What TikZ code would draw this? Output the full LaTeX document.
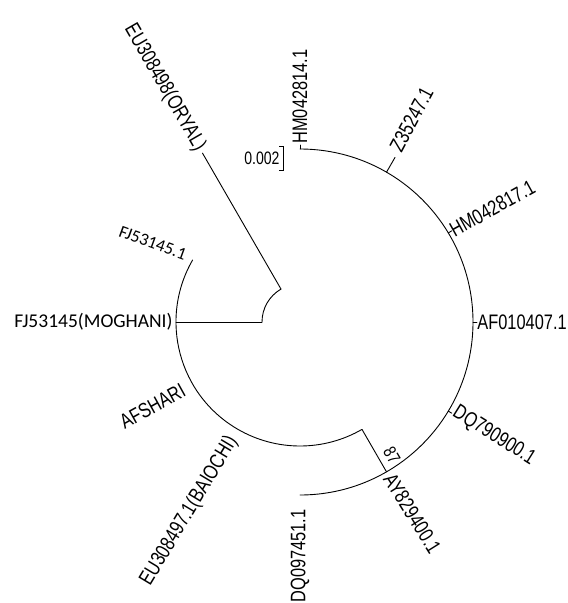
\documentclass[tikz,border=0pt]{standalone}
\usepackage{fontspec}
\setmainfont{Liberation Sans}
\newfontfamily\califont{Carlito}
\newcommand{\narrowtxt}[1]{\scalebox{0.78}[1]{#1}}
\begin{document}
\begin{tikzpicture}[x=1pt,y=1pt,line width=0.9pt,line cap=round,
  lbl/.style={font=\fontsize{21}{21}\selectfont,inner sep=1pt},
  lblR/.style={lbl,anchor=west},
  lblL/.style={lbl,anchor=east},
  calbig/.style={font=\califont\fontsize{19.5}{19.5}\selectfont,inner sep=1pt,anchor=east},
  calsmall/.style={font=\califont\fontsize{17.5}{17.5}\selectfont,inner sep=1pt,anchor=east},
  boot/.style={font=\fontsize{18}{18}\selectfont,inner sep=0pt},
  scalelbl/.style={font=\fontsize{18}{18}\selectfont,inner sep=1pt,anchor=east}]
\useasboundingbox (0,0) rectangle (568,-603);
\coordinate (C) at (300,-322);
\begin{scope}[shift={(C)}]
  % internal nodes
  \coordinate (root) at (0,0);
  \coordinate (ra) at (180:38pt);
  \coordinate (rb) at (120:38pt);
  \coordinate (cl) at (180:124pt);
  \coordinate (clA) at (150:124pt);
  \coordinate (clB) at (300:124pt);
  \coordinate (cr) at (300:173pt);
  \coordinate (crA) at (-90:173pt);
  % leaves
  \coordinate (oryal) at (120:195pt);
  \coordinate (z35) at (60:173pt);
  \coordinate (z35t) at (60:190pt);
  \coordinate (hm14) at (90:173pt);
  \coordinate (hm14t) at (90:177pt);
  \coordinate (hm17) at (31:173pt);
  \coordinate (hm17t) at (31:177pt);
  \coordinate (af) at (0:173pt);
  \coordinate (aft) at (0:177pt);
  \coordinate (dq79) at (-31:173pt);
  \coordinate (dq79t) at (-31:177pt);

  % branches
  \draw (ra) arc[start angle=180,end angle=120,radius=38pt];
  \draw (rb) -- (oryal);
  \draw (ra) -- (cl);
  \draw (clA) arc[start angle=150,end angle=300,radius=124pt];
  \draw (clB) -- (cr);
  \draw (crA) arc[start angle=-90,end angle=90,radius=173pt];
  \draw (z35) -- (z35t);
  \draw (hm14) -- (hm14t);
  \draw (hm17) -- (hm17t);
  \draw (af) -- (aft);
  \draw (dq79) -- (dq79t);

  % labels, right side
  \node[lblR,rotate=90] (Lhm14) at (90:177pt) {\narrowtxt{HM042814.1}};
  \node[lblR,rotate=62] (Lz35) at (61:195pt) {\narrowtxt{Z35247.1}};
  \node[lblR,rotate=29] (Lhm17) at (31:175pt) {\narrowtxt{HM042817.1}};
  \node[lblR] (Laf) at (0:176pt) {\narrowtxt{AF010407.1}};
  \node[lblR,rotate=-32] (Ldq79) at (-30:177pt) {\narrowtxt{DQ790900.1}};
  \node[lblR,rotate=-58] (Lay) at (-60:176pt) {\narrowtxt{AY829400.1}};
  % labels, left side
  \node[lblL,rotate=90] (Ldq09) at (270:186pt) {\narrowtxt{DQ097451.1}};
  \node[lblL,rotate=59] (Lbai) at (240:133pt) {\narrowtxt{EU308497.1(BAIOCHI)}};
  \node[lblL,rotate=29] (Lafs) at (210:133pt) {\narrowtxt{AFSHARI}};
  \node[calbig] (Lmog) at (180:126pt) {FJ53145(MOGHANI)};
  \node[calsmall,rotate=-20] (Lfj) at (149.5:131pt) {FJ53145.1};
  \node[lblL,rotate=-60] (Lory) at (120:198pt) {\narrowtxt{EU308498(ORYAL)}};
\end{scope}
% bootstrap value
\node[boot,rotate=-60] (b87) at (392,-455) {\narrowtxt{87}};
% scale bar
\coordinate (sbT) at (283,-146);
\coordinate (sbB) at (283,-170);
\draw[line width=0.8pt,line cap=butt] ([xshift=-4pt]sbT) -- (sbT) -- (sbB) -- ([xshift=-4pt]sbB);
\node[scalelbl] (sbl) at (281,-158) {\narrowtxt{0.002}};
\end{tikzpicture}
\end{document}
